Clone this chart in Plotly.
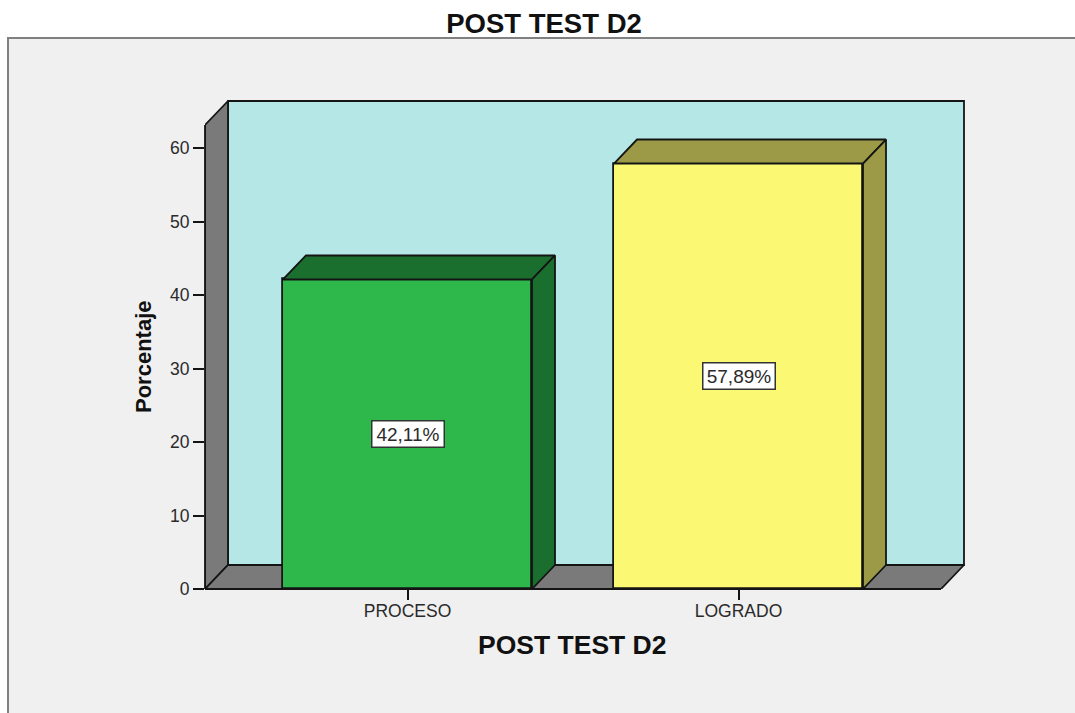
import plotly.graph_objects as go

categories = ["PROCESO", "LOGRADO"]
percentages = [42.11, 57.89]
bar_labels = ["42,11%", "57,89%"]
y_ticks = [0, 10, 20, 30, 40, 50, 60]
front_colors = ["#2eb84c", "#fbf873"]
shade_colors = ["#1a6e2e", "#9c9a46"]
chart_title = "POST TEST D2"
x_title = "POST TEST D2"
y_title = "Porcentaje"

W, H = 1075, 713
LEFT, RIGHT, TOP, BOTTOM = 205, 941, 125, 589
DEPTH_X, DEPTH_Y = 23, 24
PX_PER_CAT = 331
PX_PER_PCT = 7.35
X0 = (LEFT - 407.5) / PX_PER_CAT
X1 = (RIGHT - 407.5) / PX_PER_CAT
Y1 = (BOTTOM - TOP) / PX_PER_PCT
DX = DEPTH_X / PX_PER_CAT
DY = DEPTH_Y / PX_PER_PCT
BAR_W = 249 / PX_PER_CAT
EDGE = "#141414"
LW = 1.8
FONT = "Liberation Sans"
TEXT = "#2a2a2a"


def face(xs, ys, color, axes=("x", "y")):
    return go.Scatter(
        x=xs + xs[:1], y=ys + ys[:1], mode="lines", fill="toself", fillcolor=color,
        line=dict(color=EDGE, width=LW), hoverinfo="skip", showlegend=False,
        xaxis=axes[0], yaxis=axes[1],
    )


fig = go.Figure()
# walls on the base subplot, so that they stay behind the bars
fig.add_trace(face([X0 + DX, X1 + DX, X1 + DX, X0 + DX], [DY, DY, Y1 + DY, Y1 + DY], "#b5e7e7"))
fig.add_trace(face([X0, X0 + DX, X0 + DX, X0], [0, DY, Y1 + DY, Y1], "#7a7a7a"))
fig.add_trace(face([X0, X1, X1 + DX, X0 + DX], [0, 0, DY, DY], "#7a7a7a"))

overlay = ("x2", "y2")
fig.add_trace(go.Bar(
    x=list(range(len(categories))), y=percentages, width=BAR_W,
    marker=dict(color=front_colors, line=dict(color=EDGE, width=LW)),
    hoverinfo="skip", showlegend=False, xaxis="x2", yaxis="y2",
))
for i, v in enumerate(percentages):
    l, r = i - BAR_W / 2, i + BAR_W / 2
    fig.add_trace(face([l, r, r + DX, l + DX], [v, v, v + DY, v + DY], shade_colors[i], overlay))
    fig.add_trace(face([r, r + DX, r + DX, r], [0, DY, v + DY, v], shade_colors[i], overlay))

annotations = [
    dict(x=i, y=v / 2, xref="x2", yref="y2", text=bar_labels[i], showarrow=False,
         bgcolor="white", bordercolor="#333333", borderwidth=1.5, borderpad=0,
         width=71, height=25, align="center",
         font=dict(family=FONT, size=19, color=TEXT))
    for i, v in enumerate(percentages)
]
annotations += [
    dict(x=572 / W, y=1 - 645 / H, xref="paper", yref="paper", text=f"<b>{x_title}</b>",
         xanchor="center", yanchor="middle",
         showarrow=False, font=dict(family=FONT, size=26.5, color="#111111")),
    dict(x=143 / W, y=1 - 357 / H, xref="paper", yref="paper", text=f"<b>{y_title}</b>",
         xanchor="center", yanchor="middle",
         showarrow=False, textangle=-90, font=dict(family=FONT, size=22, color="#111111")),
]

fig.update_layout(
    width=W, height=H, autosize=False,
    margin=dict(l=0, r=0, t=0, b=0, pad=0, autoexpand=False),
    paper_bgcolor="white", plot_bgcolor="rgba(0,0,0,0)",
    font=dict(family=FONT, color=TEXT),
    title=dict(text=f"<b>{chart_title}</b>", x=544 / W, xanchor="center", y=1 - 23 / H, yanchor="middle",
               font=dict(family=FONT, size=27.5, color="#111111")),
    bargap=0,
    xaxis=dict(
        domain=[LEFT / W, (RIGHT + DEPTH_X + 1) / W], range=[X0, X1 + DX + 1 / PX_PER_CAT], tickmode="array",
        tickvals=list(range(len(categories))), ticktext=categories,
        ticks="outside", ticklen=10, tickwidth=1.5, tickcolor=EDGE,
        ticklabelstandoff=-4, automargin=False,
        tickfont=dict(family=FONT, size=17.5, color=TEXT),
        showgrid=False, zeroline=False, showline=False,
    ),
    yaxis=dict(
        domain=[1 - BOTTOM / H, 1 - (TOP - DEPTH_Y - 1) / H], range=[0, Y1 + DY + 1 / PX_PER_PCT], tickmode="array",
        tickvals=y_ticks, ticks="outside", ticklen=11, tickwidth=1.5, tickcolor=EDGE,
        automargin=False,
        tickfont=dict(family=FONT, size=17.5, color=TEXT),
        showgrid=False, zeroline=False, showline=False,
    ),
    xaxis2=dict(overlaying="x", matches="x", visible=False, anchor="y2", automargin=False),
    yaxis2=dict(overlaying="y", matches="y", visible=False, anchor="x2", automargin=False),
    shapes=[
        dict(type="rect", xref="paper", yref="paper", layer="below",
             x0=8 / W, x1=1.02, y0=-0.02, y1=1 - 38 / H,
             fillcolor="#f0f0f0", line=dict(color="#808080", width=2)),
        # the half of the front edges that falls outside the plot area
        dict(type="line", xref="paper", yref="paper", x0=LEFT / W, x1=LEFT / W,
             y0=1 - BOTTOM / H, y1=1 - TOP / H, line=dict(color=EDGE, width=LW)),
        dict(type="line", xref="paper", yref="paper", x0=LEFT / W, x1=RIGHT / W,
             y0=1 - BOTTOM / H, y1=1 - BOTTOM / H, line=dict(color=EDGE, width=LW)),
    ],
    annotations=annotations,
)

fig.write_html("out.html", config=dict(displayModeBar=False),
               post_script="document.body.style.margin='0';")
